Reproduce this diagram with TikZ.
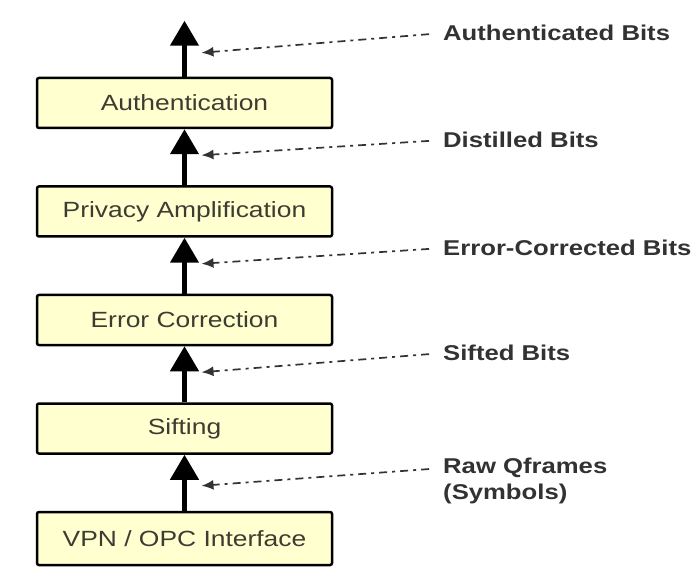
\documentclass[tikz,border=0pt]{standalone}
\usepackage{fontspec}
\setmainfont{Liberation Sans}[FakeStretch=1.2]
\usetikzlibrary{arrows.meta,positioning}

\definecolor{boxfill}{RGB}{255,255,208}
\definecolor{boxtext}{RGB}{60,60,50}
\definecolor{bitstext}{RGB}{50,50,50}

\begin{document}
\begin{tikzpicture}[x=1pt,y=1pt,
	stage/.style={draw=black, line width=2.5pt, rounded corners=2pt, fill=boxfill,
		minimum width=295pt, minimum height=50pt, font=\fontsize{22}{26}\selectfont, text=boxtext},
	flow/.style={line width=4.5pt, -{Triangle[length=25pt,width=28pt]}},
	bits/.style={anchor=west, inner xsep=0pt, align=left, text=bitstext,
		font=\fontsize{21.4}{26}\selectfont\bfseries},
	feed/.style={line width=1.7pt, draw=black!80, dash pattern=on 8pt off 5pt on 3pt off 5pt,
		shorten <=14pt, -{Latex[length=12pt,width=10pt]}},
	node distance=56pt]
	\useasboundingbox (0,0) rectangle (696,-577);

	% processing stages, top to bottom
	\node[stage] (auth) at (184.5,-103) {Authentication};
	\node[stage, below=of auth] (priv) {Privacy Amplification};
	\node[stage, below=of priv] (ec) {Error Correction};
	\node[stage, below=of ec] (sift) {Sifting};
	\node[stage, below=of sift, minimum height=53pt] (vpn) {VPN / OPC Interface};

	% data flowing upwards
	\coordinate (out) at ([yshift=56pt]auth.north);
	\draw[flow] (vpn) -- (sift);
	\draw[flow] (sift) -- (ec);
	\draw[flow] (ec) -- (priv);
	\draw[flow] (priv) -- (auth);
	\draw[flow] (auth) -- (out);

	% what travels on each link
	\node[bits] (b5) at (443,-33) {Authenticated Bits};
	\node[bits] (b4) at (443,-140) {Distilled Bits};
	\node[bits] (b3) at (443,-248) {Error-Corrected Bits};
	\node[bits] (b2) at (443,-353) {Sifted Bits};
	\node[bits] (b1) at (443,-481) {Raw Qframes\\(Symbols)};

	\coordinate (in5) at ([xshift=17pt,yshift=24pt]auth.north);
	\coordinate (in4) at ([xshift=17pt,yshift=30pt]priv.north);
	\coordinate (in3) at ([xshift=17pt,yshift=30pt]ec.north);
	\coordinate (in2) at ([xshift=17pt,yshift=30pt]sift.north);
	\coordinate (in1) at ([xshift=17pt,yshift=25pt]vpn.north);

	\draw[feed] (b5.west) -- (in5);
	\draw[feed] (b4.west) -- (in4);
	\draw[feed] (b3.west) -- (in3);
	\draw[feed] (b2.west) -- (in2);
	\draw[feed] ([yshift=13pt]b1.west) -- (in1);
\end{tikzpicture}
\end{document}
